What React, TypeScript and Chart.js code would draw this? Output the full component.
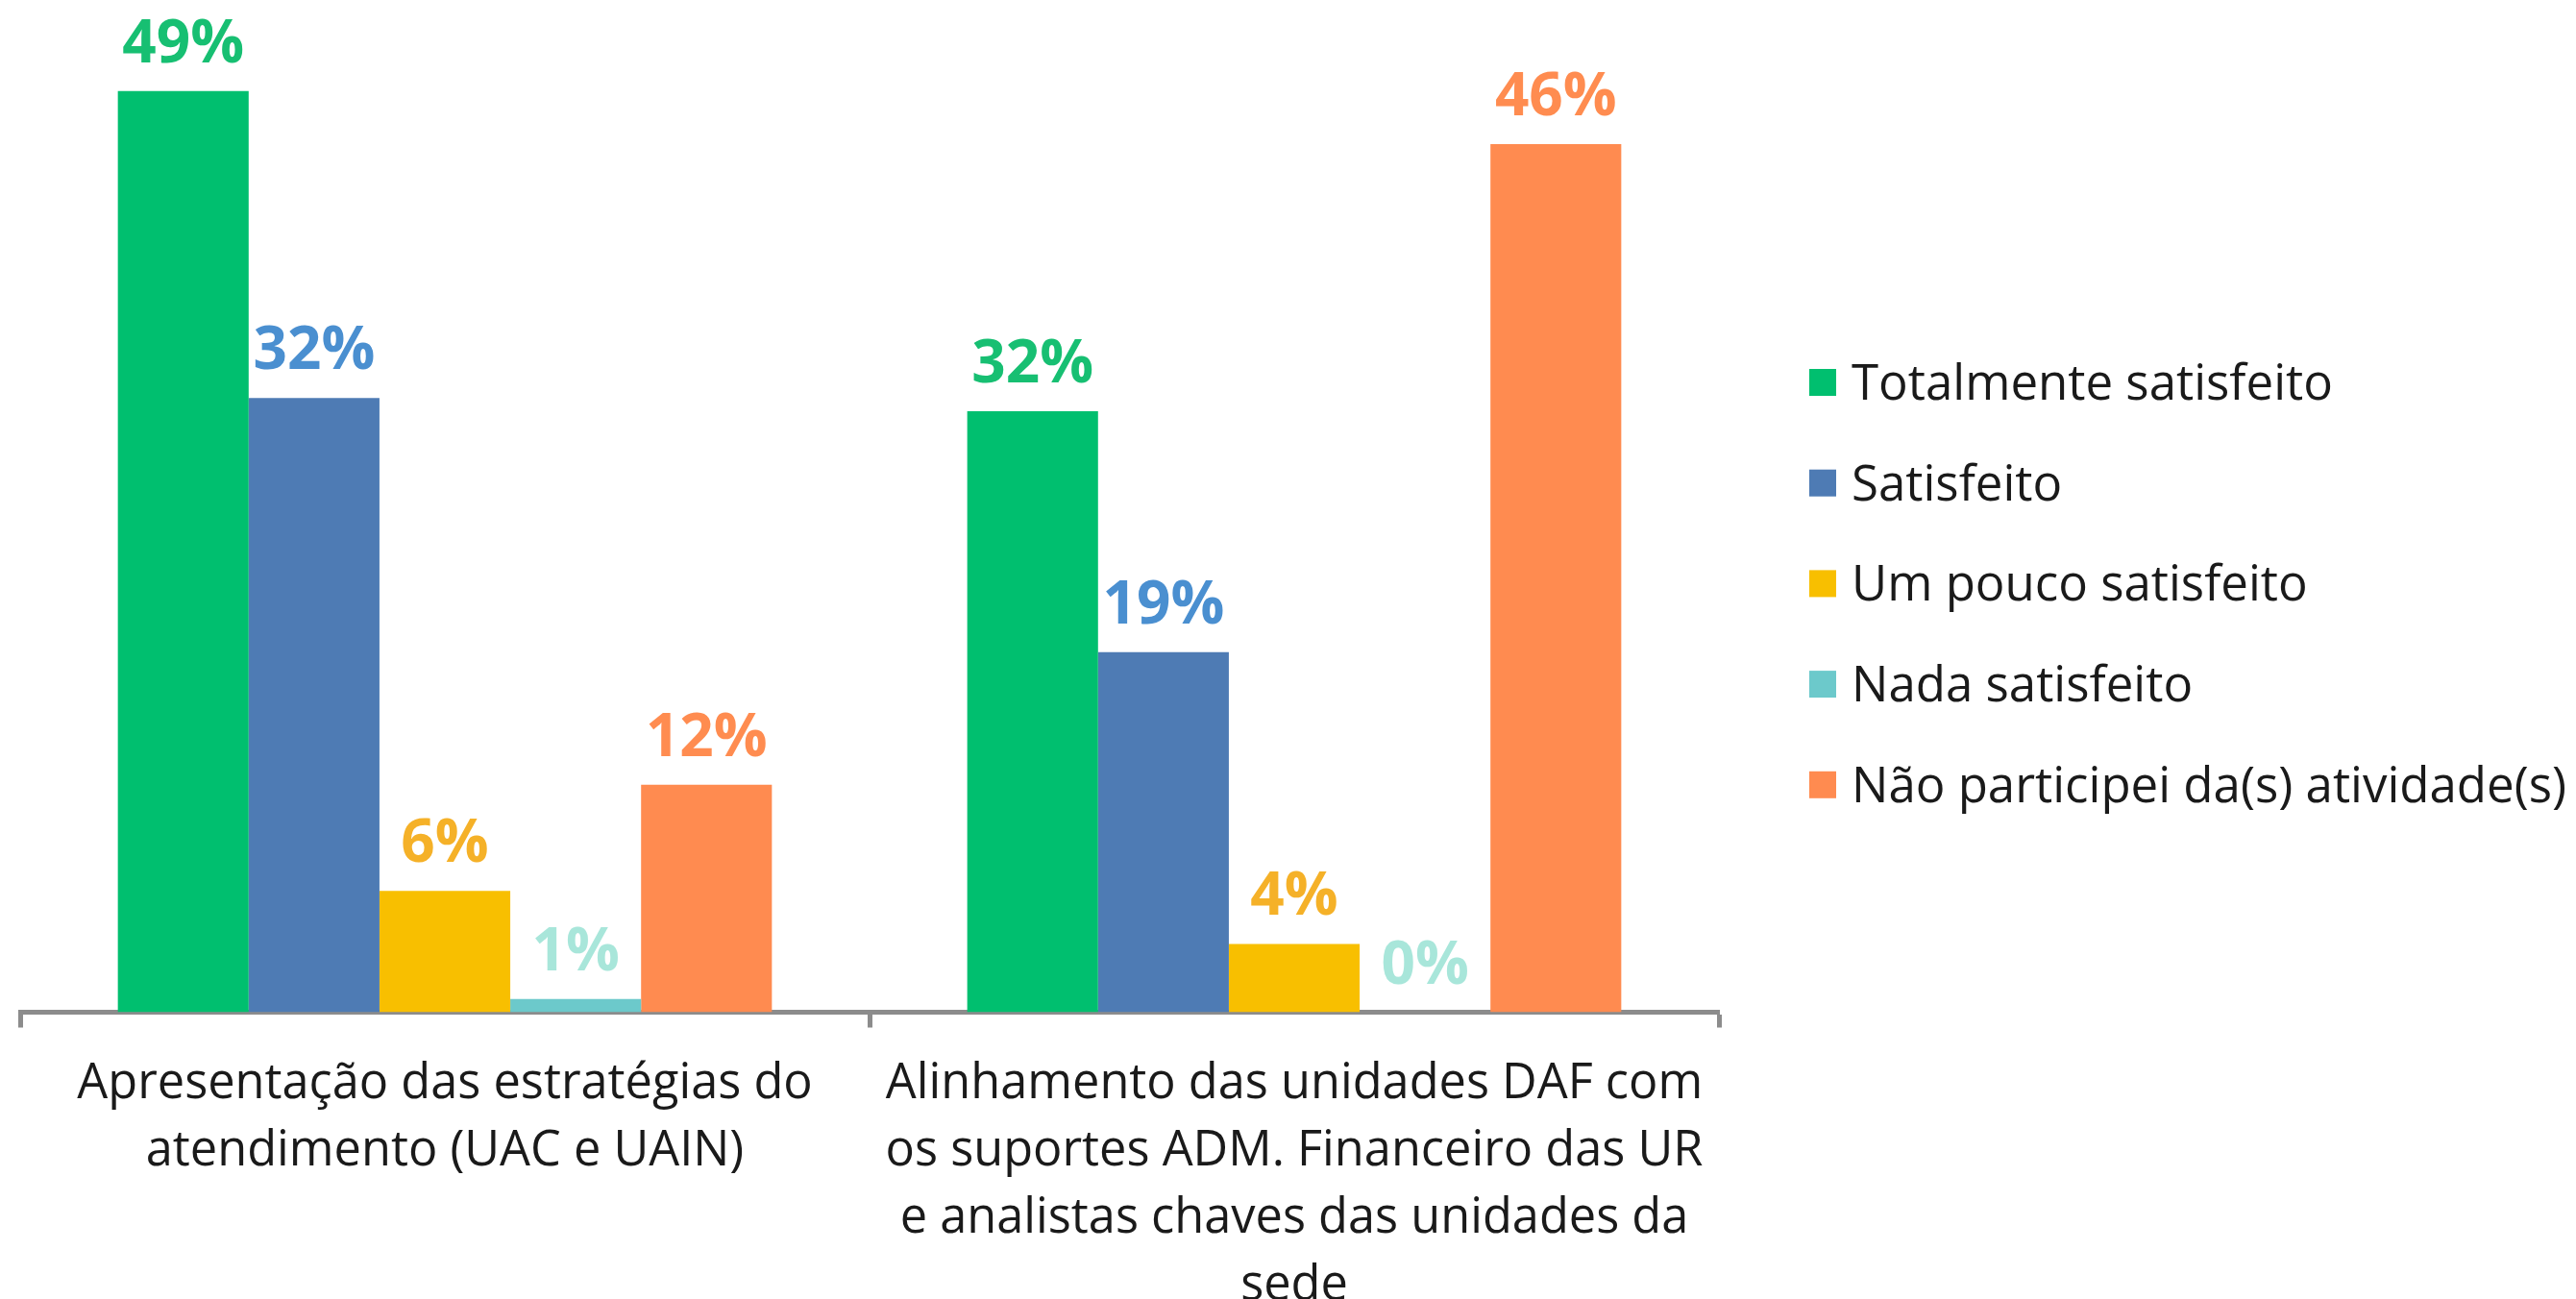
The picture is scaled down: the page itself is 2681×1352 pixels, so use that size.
import React, { useEffect, useRef } from "react";
import { Chart, registerables } from "chart.js";

Chart.register(...registerables);

// ---- Data ----
const categories: string[][] = [
  ["Apresentação das estratégias do", "atendimento (UAC e UAIN)"],
  [
    "Alinhamento das unidades DAF com",
    "os suportes ADM. Financeiro das UR",
    "e analistas chaves das unidades da",
    "sede",
  ],
];
const seriesNames = [
  "Totalmente satisfeito",
  "Satisfeito",
  "Um pouco satisfeito",
  "Nada satisfeito",
  "Não participei da(s) atividade(s)",
];
const totalmenteSatisfeito = [48.6, 31.7];
const satisfeito = [32.4, 19.0];
const umPoucoSatisfeito = [6.4, 3.6];
const nadaSatisfeito = [0.7, 0];
const naoParticipei = [12.0, 45.8];

const seriesValues = [
  totalmenteSatisfeito,
  satisfeito,
  umPoucoSatisfeito,
  nadaSatisfeito,
  naoParticipei,
];

// ---- Styles ----
const barColors = ["#00BF6F", "#4E7BB4", "#F8BF00", "#6CC9CB", "#FF8B50"];
const labelColors = ["#17BF72", "#4A8FD0", "#F5B128", "#A8E6DA", "#FF8C50"];
const FONT = "'Open Sans', 'Noto Sans', sans-serif";

const valueLabelsPlugin = {
  id: "valueLabels",
  afterDatasetsDraw(chart: any) {
    const ctx = chart.ctx;
    ctx.save();
    ctx.font = `bold 62px ${FONT}`;
    ctx.textAlign = "center";
    ctx.textBaseline = "alphabetic";
    chart.data.datasets.forEach((ds: any, i: number) => {
      const meta = chart.getDatasetMeta(i);
      meta.data.forEach((bar: any, j: number) => {
        const v = ds.data[j] as number;
        ctx.fillStyle = labelColors[i];
        ctx.fillText(`${Math.round(v)}%`, bar.x, bar.y - 30);
      });
    });
    ctx.restore();
  },
};

const legendPlugin = {
  id: "customLegend",
  afterDraw(chart: any) {
    const ctx = chart.ctx;
    const boxX = 1883;
    const box = 28;
    const textX = 1927;
    const firstRow = 398;
    const rowGap = 104.7;
    ctx.save();
    ctx.font = `51px ${FONT}`;
    ctx.textAlign = "left";
    ctx.textBaseline = "alphabetic";
    chart.data.datasets.forEach((ds: any, i: number) => {
      const cy = firstRow + i * rowGap;
      ctx.fillStyle = ds.backgroundColor;
      ctx.fillRect(boxX, cy - box / 2, box, box);
      ctx.fillStyle = "#1A1A1A";
      ctx.fillText(ds.label, textX, cy + 18);
    });
    ctx.restore();
  },
};

export default function App() {
  const canvasRef = useRef<HTMLCanvasElement | null>(null);

  useEffect(() => {
    if (!canvasRef.current) return;
    const chart = new Chart(canvasRef.current, {
      type: "bar",
      data: {
        labels: categories as any,
        datasets: seriesNames.map((name, i) => ({
          label: name,
          data: seriesValues[i],
          backgroundColor: barColors[i],
          borderWidth: 0,
          categoryPercentage: 0.77,
          barPercentage: 1,
        })),
      },
      options: {
        responsive: false,
        maintainAspectRatio: false,
        animation: false,
        devicePixelRatio: 1,
        layout: { padding: { left: 21, right: 892, top: 0, bottom: 0 } },
        plugins: {
          legend: { display: false },
          tooltip: { enabled: false },
        },
        scales: {
          x: {
            z: 1,
            border: { display: true, color: "#8C8C8C", width: 5 },
            grid: {
              display: true,
              drawOnChartArea: false,
              drawTicks: true,
              tickLength: 16,
              tickWidth: 5,
              tickColor: "#8C8C8C",
              offset: true,
            },
            ticks: {
              color: "#1A1A1A",
              font: { family: FONT, size: 50.5, lineHeight: 1.386 },
              padding: 24,
              maxRotation: 0,
              minRotation: 0,
              autoSkip: false,
            },
            afterFit(scale: any) {
              scale.height = 298.5;
            },
          },
          y: { display: false, min: 0, max: 53.4 },
        },
      },
      plugins: [valueLabelsPlugin, legendPlugin],
    });
    return () => chart.destroy();
  }, []);

  return (
    <div
      style={{
        position: "absolute",
        left: 0,
        top: 0,
        width: 2681,
        height: 1352,
        overflow: "hidden",
        background: "#FFFFFF",
      }}
    >
      <canvas
        ref={canvasRef}
        width={2681}
        height={1352}
        style={{ width: 2681, height: 1352, display: "block" }}
      />
    </div>
  );
}
